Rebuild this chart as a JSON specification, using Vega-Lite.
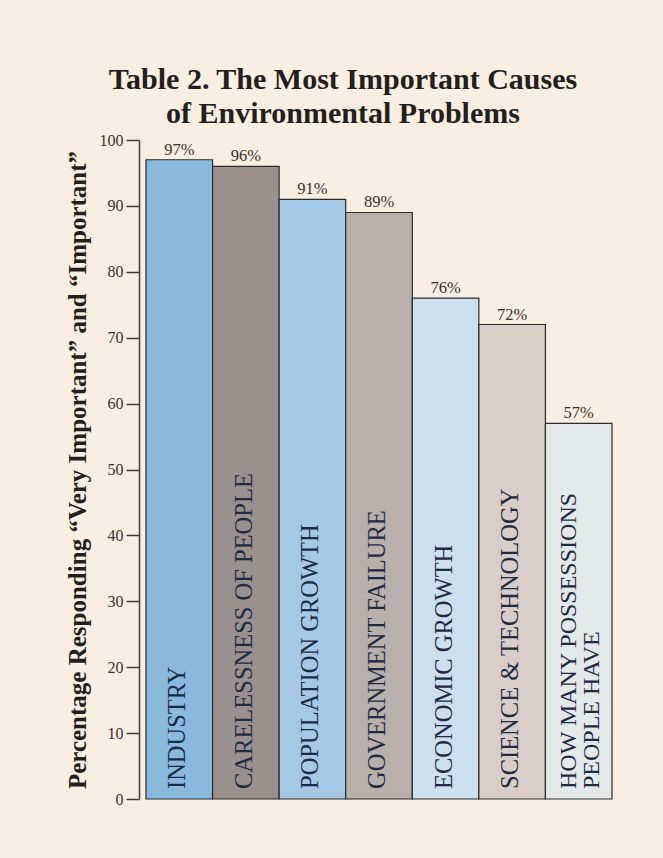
{
  "$schema": "https://vega.github.io/schema/vega-lite/v6.json",
  "width": 466,
  "height": 659,
  "autosize": {"type": "none"},
  "padding": {"left": 146, "top": 140, "right": 51, "bottom": 59},
  "background": "#f8efe2",
  "config": {
    "view": {"stroke": null},
    "font": "Liberation Serif"
  },
  "title": {
    "text": ["Table 2. The Most Important Causes", "of Environmental Problems"],
    "font": "Liberation Serif",
    "fontSize": 30,
    "fontWeight": "bold",
    "color": "#231f1c",
    "lineHeight": 34,
    "anchor": "middle",
    "frame": "group",
    "dx": -36,
    "offset": 3
  },
  "data": {
    "values": [
      {"cause": "INDUSTRY", "label": "INDUSTRY", "value": 97, "pct": "97%"},
      {"cause": "CARELESSNESS OF PEOPLE", "label": "CARELESSNESS OF PEOPLE", "value": 96, "pct": "96%"},
      {"cause": "POPULATION GROWTH", "label": "POPULATION GROWTH", "value": 91, "pct": "91%"},
      {"cause": "GOVERNMENT FAILURE", "label": "GOVERNMENT FAILURE", "value": 89, "pct": "89%"},
      {"cause": "ECONOMIC GROWTH", "label": "ECONOMIC GROWTH", "value": 76, "pct": "76%"},
      {"cause": "SCIENCE & TECHNOLOGY", "label": "SCIENCE & TECHNOLOGY", "value": 72, "pct": "72%"},
      {"cause": "HOW MANY POSSESSIONS PEOPLE HAVE", "label": ["HOW MANY POSSESSIONS", "PEOPLE HAVE"], "value": 57, "pct": "57%"}
    ]
  },
  "encoding": {
    "x": {
      "field": "cause",
      "type": "nominal",
      "sort": null,
      "scale": {"paddingInner": 0, "paddingOuter": 0},
      "axis": null
    }
  },
  "layer": [
    {
      "mark": {"type": "bar", "stroke": "#2b2b2b", "strokeWidth": 1.2},
      "encoding": {
        "y": {
          "field": "value",
          "type": "quantitative",
          "scale": {"domain": [0, 100], "nice": false},
          "axis": {
            "title": "Percentage Responding “Very Important” and “Important”",
            "titleFont": "Liberation Serif",
            "titleFontSize": 25,
            "titleFontWeight": "bold",
            "titleColor": "#231f1c",
            "titleBaseline": "alphabetic",
            "titleX": -54,
            "values": [0, 10, 20, 30, 40, 50, 60, 70, 80, 90, 100],
            "grid": false,
            "offset": 7,
            "domainColor": "#4a3a30",
            "domainWidth": 1.5,
            "tickColor": "#4a3a30",
            "tickWidth": 1.5,
            "tickSize": 13,
            "labelPadding": 3,
            "labelFont": "Liberation Serif",
            "labelFontSize": 16,
            "labelColor": "#3a3030"
          }
        },
        "color": {
          "field": "cause",
          "type": "nominal",
          "legend": null,
          "scale": {
            "domain": ["INDUSTRY", "CARELESSNESS OF PEOPLE", "POPULATION GROWTH", "GOVERNMENT FAILURE", "ECONOMIC GROWTH", "SCIENCE & TECHNOLOGY", "HOW MANY POSSESSIONS PEOPLE HAVE"],
            "range": ["#8ab9de", "#9a908e", "#a5c8e4", "#b9afab", "#cbdfec", "#d8cdc7", "#e3e9e9"]
          }
        }
      }
    },
    {
      "mark": {"type": "text", "baseline": "alphabetic", "dy": -5, "fontSize": 16.5, "font": "Liberation Serif", "color": "#3a3030"},
      "encoding": {
        "y": {"field": "value", "type": "quantitative"},
        "text": {"field": "pct"}
      }
    },
    {
      "transform": [{"filter": "!isArray(datum.label)"}],
      "mark": {"type": "text", "angle": 270, "align": "left", "baseline": "middle", "dx": 10, "dy": -1, "fontSize": 24.5, "font": "Liberation Serif", "color": "#1d2b45"},
      "encoding": {
        "y": {"datum": 0},
        "text": {"field": "label"}
      }
    },
    {
      "transform": [{"filter": "isArray(datum.label)"}],
      "mark": {"type": "text", "angle": 270, "align": "left", "baseline": "middle", "dx": 10, "dy": -10, "fontSize": 24, "lineHeight": 23, "font": "Liberation Serif", "color": "#1d2b45"},
      "encoding": {
        "y": {"datum": 0},
        "text": {"field": "label"}
      }
    }
  ]
}
